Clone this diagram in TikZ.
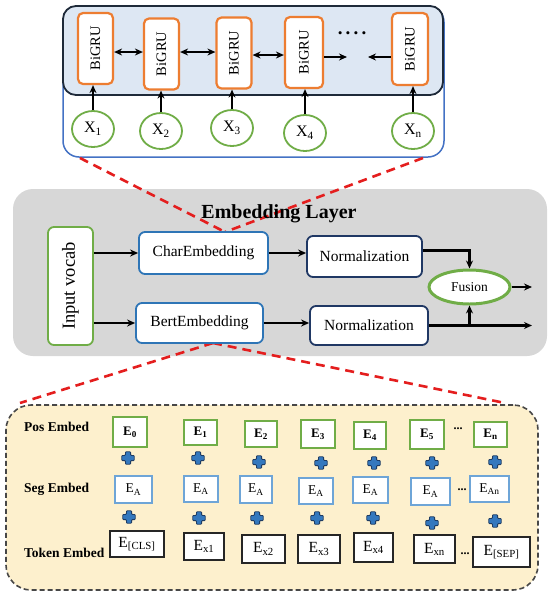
\documentclass[tikz,border=0pt]{standalone}
\usepackage{fontspec}
\setmainfont{Liberation Serif}
\usetikzlibrary{shapes.geometric,arrows.meta,calc}
\definecolor{gruorange}{RGB}{237,125,49}
\definecolor{grngreen}{RGB}{112,173,71}
\definecolor{topfill}{RGB}{221,231,243}
\definecolor{topdark}{RGB}{30,42,57}
\definecolor{topblue}{RGB}{68,114,196}
\definecolor{grayfill}{RGB}{215,215,215}
\definecolor{embblue}{RGB}{46,117,182}
\definecolor{navy}{RGB}{32,56,100}
\definecolor{yelfill}{RGB}{253,240,205}
\definecolor{segblue}{RGB}{110,165,215}
\definecolor{tokdark}{RGB}{38,38,38}
\definecolor{plusblue}{RGB}{52,120,190}
\definecolor{plusdark}{RGB}{30,60,100}
\definecolor{redline}{RGB}{228,30,30}
\newcommand\Esub[1]{E\textsubscript{#1}}
\tikzset{
  fs/.style={font=\fontsize{#1}{#1}\selectfont},
  gru/.style={draw=gruorange, line width=2.2pt, fill=white, rounded corners=5pt, minimum width=35pt, minimum height=71pt, inner sep=0pt, fs=14.5},
  xnode/.style={ellipse, draw=grngreen, line width=1.8pt, fill=white, minimum width=42pt, minimum height=36pt, inner sep=0pt, fs=16},
  arr/.style={-{Stealth[length=8pt,width=7pt]}, line width=2.6pt, black},
  darr/.style={{Stealth[length=8pt,width=7pt]}-{Stealth[length=8pt,width=7pt]}, line width=2.6pt, black},
  embbox/.style={draw=embblue, line width=1.8pt, fill=white, rounded corners=6pt, inner sep=0pt, fs=15.5},
  normbox/.style={draw=navy, line width=1.8pt, fill=white, rounded corners=6pt, inner sep=0pt, fs=15.5},
  reddash/.style={draw=redline, line width=2.6pt, dash pattern=on 9pt off 6pt},
  posbox/.style={draw=grngreen, line width=1.8pt, fill=white, inner sep=0pt, fs=13},
  segbox/.style={draw=segblue, line width=1.8pt, fill=white, inner sep=0pt, fs=13.5},
  tokbox/.style={draw=tokdark, line width=2.2pt, fill=white, inner sep=0pt, fs=15.5},
  rowlab/.style={anchor=west, inner sep=0pt, font=\fontsize{13.5}{13.5}\selectfont\bfseries},
  bplus/.pic={\filldraw[fill=plusblue, draw=plusdark, line width=0.8pt, rounded corners=0.8pt]
    (-2.6,-6.2)--(2.6,-6.2)--(2.6,-2.6)--(6.2,-2.6)--(6.2,2.6)--(2.6,2.6)--(2.6,6.2)--(-2.6,6.2)--(-2.6,2.6)--(-6.2,2.6)--(-6.2,-2.6)--(-2.6,-2.6)--cycle;}
}
\begin{document}
\begin{tikzpicture}[x=1pt,y=-1pt]
\useasboundingbox (0,0) rectangle (550,598);
% ---------- top section ----------
\node[draw=topblue, line width=1.5pt, rounded corners=16pt, minimum width=381pt, minimum height=151pt, inner sep=0pt] (topouter) at (253.5,81.5) {};
\node[draw=topdark, line width=1.8pt, fill=topfill, rounded corners=13pt, minimum width=380pt, minimum height=89pt, inner sep=0pt] (topinner) at (253,50.5) {};
\node[gru] (g1) at (95.5,48.5) {\rotatebox{90}{BiGRU}};
\node[gru] (g2) at (161.5,54) {\rotatebox{90}{BiGRU}};
\node[gru] (g3) at (234,53) {\rotatebox{90}{BiGRU}};
\node[gru, minimum width=38pt] (g4) at (304,52.5) {\rotatebox{90}{BiGRU}};
\node[gru, minimum width=36pt, minimum height=72pt] (g5) at (410,49) {\rotatebox{90}{BiGRU}};
\node[inner sep=0pt, font=\fontsize{19}{19}\selectfont\bfseries] (dots) at (352,33) {.\,.\,.\,.};
\coordinate (dl) at (347,57);
\coordinate (dr) at (368,57);
\node[xnode] (x1) at (93,129) {X\textsubscript{1}};
\node[xnode] (x2) at (161,131) {X\textsubscript{2}};
\node[xnode] (x3) at (232,128) {X\textsubscript{3}};
\node[xnode] (x4) at (305,133) {X\textsubscript{4}};
\node[xnode] (xn) at (413,131) {X\textsubscript{n}};
\foreach \a/\b in {x1/g1,x2/g2,x3/g3,x4/g4,xn/g5}
  \draw[arr] (\a.north) -- (\a.north |- \b.south);
\draw[darr] (g1.east |- 0,52) -- (g2.west |- 0,52);
\draw[darr] (g2.east |- 0,52) -- (g3.west |- 0,52);
\draw[darr] (g3.east |- 0,55) -- (g4.west |- 0,55);
\draw[arr] (g4.east |- dl) -- (dl);
\draw[arr] (g5.west |- dr) -- (dr);
% ---------- middle section ----------
\node[fill=grayfill, rounded corners=20pt, minimum width=534pt, minimum height=167pt, inner sep=0pt] (emb) at (280,272.5) {};
\coordinate (tl) at (80,158);
\coordinate (tr) at (423,158);
\coordinate (cm) at (225,232);
\draw[reddash] (tl) -- (cm);
\draw[reddash] (tr) -- (cm);
\coordinate (bm) at (213,343);
\coordinate (bl) at (20,403);
\coordinate (br) at (505,403);
\draw[reddash] (bm) -- (bl);
\draw[reddash] (bm) -- (br);
\node[inner sep=0pt, font=\fontsize{20}{20}\selectfont\bfseries] (title) at (279,214) {Embedding Layer};
\node[draw=grngreen, line width=1.8pt, fill=white, rounded corners=6pt, minimum width=45pt, minimum height=118pt, inner sep=0pt, fs=18.5] (iv) at (70.5,286) {\rotatebox{90}{Input vocab}};
\node[embbox, minimum width=129pt, minimum height=42pt] (char) at (203.5,253) {CharEmbedding};
\node[embbox, minimum width=127pt, minimum height=40pt] (bert) at (199.5,323) {BertEmbedding};
\node[normbox, minimum width=115pt, minimum height=41pt] (n1) at (364.5,256.5) {Normalization};
\node[normbox, minimum width=118pt, minimum height=39pt] (n2) at (369,325.5) {Normalization};
\node[ellipse, draw=grngreen, line width=3pt, fill=white, minimum width=81pt, minimum height=34pt, inner sep=0pt, fs=13.5] (fus) at (469.5,287) {Fusion};
\coordinate (oend) at (532,324);
\draw[arr] (iv.east |- char.west) -- (char.west);
\draw[arr] (iv.east |- bert.west) -- (bert.west);
\draw[arr] (char.east) -- (n1.west |- char.east);
\draw[arr] (bert.east) -- (n2.west |- bert.east);
\draw[arr] ([yshift=6pt]n1.east) -| (fus.north);
\draw[arr] (n2.east) -- (n2.east -| oend);
\draw[arr] (fus.south |- n2.east) -- (fus.south);
\draw[arr] (fus.east) -- (fus.east -| oend);
% ---------- bottom section ----------
\node[draw=tokdark!85, line width=1.6pt, dash pattern=on 5pt off 3pt, fill=yelfill, rounded corners=25pt, minimum width=532pt, minimum height=185pt, inner sep=0pt] (bpanel) at (272,497.5) {};
\node[rowlab] (lpos) at (24,427) {Pos Embed};
\node[rowlab] (lseg) at (24,489) {Seg Embed};
\node[rowlab] (ltok) at (24,553) {Token Embed};
% pos
\node[posbox, minimum width=34pt, minimum height=30pt] (p0) at (130,432) {\textbf{\Esub{0}}};
\node[posbox, minimum width=33pt, minimum height=25pt] (p1) at (200.5,432.5) {\textbf{\Esub{1}}};
\node[posbox, minimum width=32pt, minimum height=26pt] (p2) at (261,434) {\textbf{\Esub{2}}};
\node[posbox, minimum width=34pt, minimum height=28pt] (p3) at (318,434) {\textbf{\Esub{3}}};
\node[posbox, minimum width=32pt, minimum height=27pt] (p4) at (370,435.5) {\textbf{\Esub{4}}};
\node[posbox, minimum width=34pt, minimum height=29pt] (p5) at (427,434.5) {\textbf{\Esub{5}}};
\node[posbox, minimum width=33pt, minimum height=25pt] (pn) at (490.5,434.5) {\textbf{\Esub{n}}};
\node[inner sep=0pt, font=\fontsize{12}{12}\selectfont\bfseries] (pd) at (458,429) {...};
% seg
\node[segbox, minimum width=37pt, minimum height=27pt] (s0) at (133.5,489.5) {\Esub{A}};
\node[segbox, minimum width=34pt, minimum height=26pt] (s1) at (201,489) {\Esub{A}};
\node[segbox, minimum width=32pt, minimum height=27pt] (s2) at (256,489.5) {\Esub{A}};
\node[segbox, minimum width=34pt, minimum height=26pt] (s3) at (316,491) {\Esub{A}};
\node[segbox, minimum width=35pt, minimum height=26pt] (s4) at (370.5,490) {\Esub{A}};
\node[segbox, minimum width=39pt, minimum height=27pt] (s5) at (430.5,491.5) {\Esub{A}};
\node[segbox, minimum width=39pt, minimum height=26pt] (sn) at (489.5,489) {\Esub{An}};
\node[inner sep=0pt, font=\fontsize{12}{12}\selectfont\bfseries] (sd) at (462,490) {...};
% token
\node[tokbox, minimum width=54pt, minimum height=26pt] (t0) at (137,544) {\Esub{[CLS]}};
\node[tokbox, minimum width=40pt, minimum height=27pt] (t1) at (204,546.5) {\Esub{x1}};
\node[tokbox, minimum width=43pt, minimum height=28pt] (t2) at (263.5,549) {\Esub{x2}};
\node[tokbox, minimum width=42pt, minimum height=28pt] (t3) at (319,549) {\Esub{x3}};
\node[tokbox, minimum width=39pt, minimum height=29pt] (t4) at (373.5,547.5) {\Esub{x4}};
\node[tokbox, minimum width=41pt, minimum height=28pt] (t5) at (434.5,549) {\Esub{xn}};
\node[tokbox, minimum width=57pt, minimum height=30pt] (tn) at (501.5,552) {\Esub{[SEP]}};
\node[inner sep=0pt, font=\fontsize{12}{12}\selectfont\bfseries] (td) at (465,554) {...};
% plus signs
\foreach \px/\py in {128/458,198/458,259/462,321/463,374/463,432/463,495/462,
                     129/517,199/518,257/518,317/518,373/518,432/523,495/521}
  \pic at (\px,\py) {bplus};
\end{tikzpicture}
\end{document}
